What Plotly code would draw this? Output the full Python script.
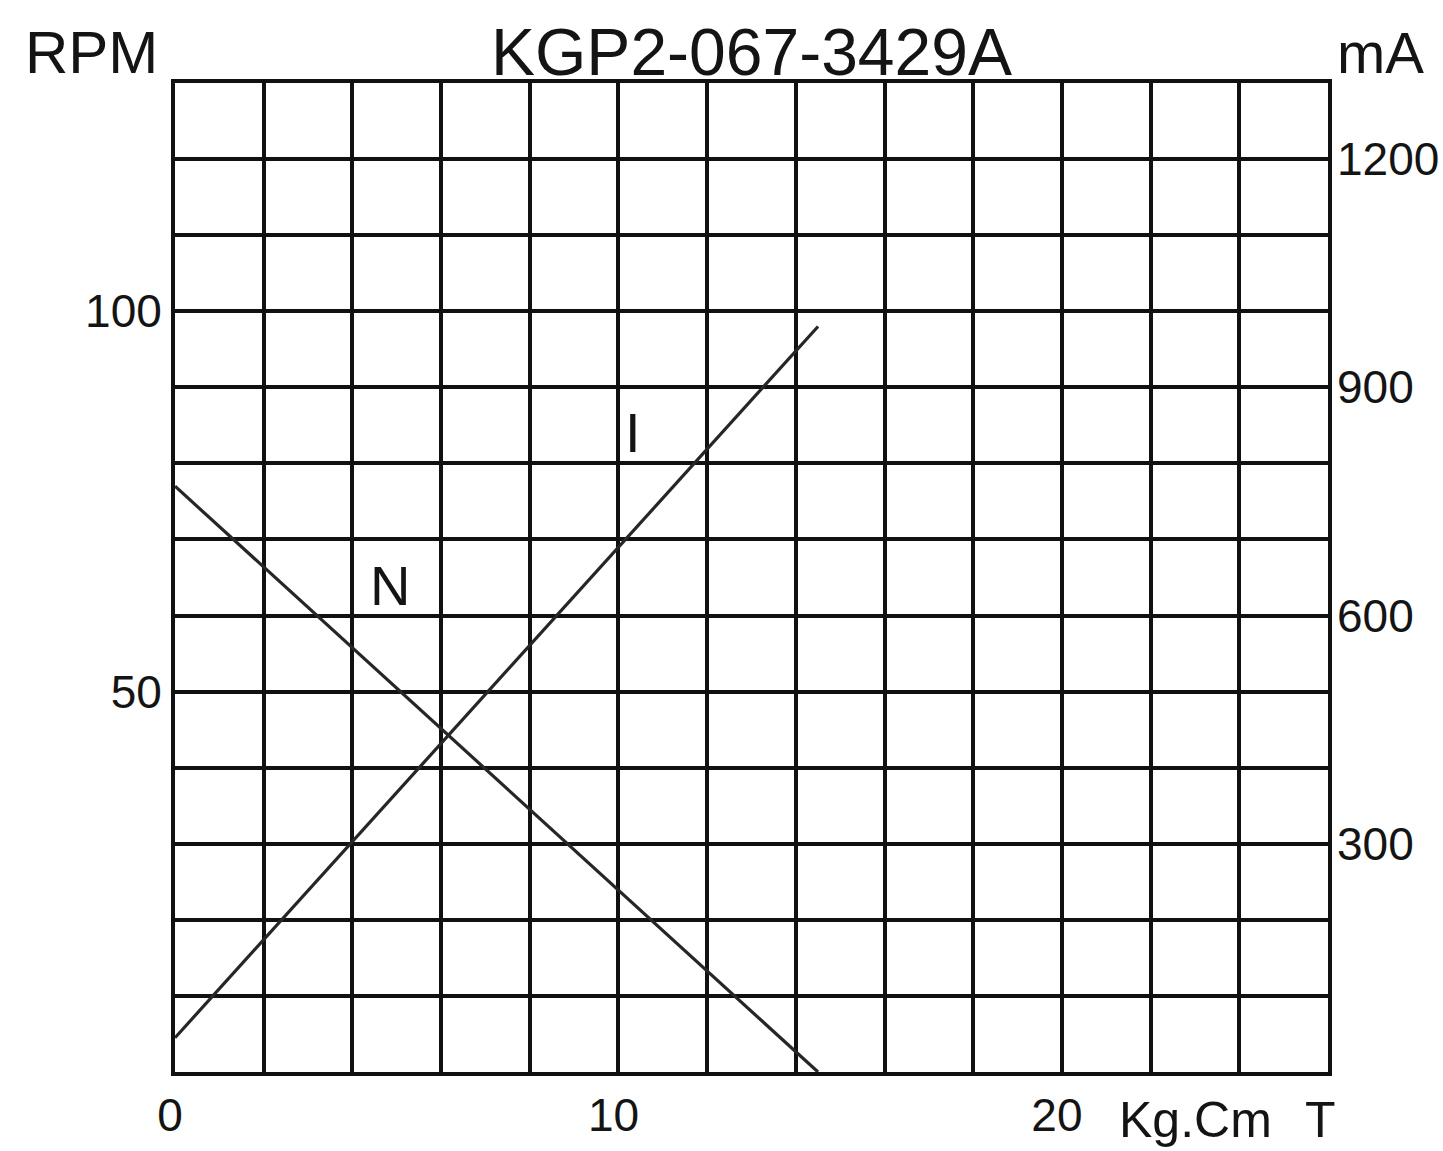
import plotly.graph_objects as go

# ---- data ----
torque_kgcm = [0, 14.5]
speed_rpm = [77, 0]
current_ma = [45, 980]

x_ticks = list(range(0, 27, 2))
x_ticktext = ["0" if v == 0 else "10" if v == 10 else "20" if v == 20 else "" for v in x_ticks]
y_ticks = list(range(0, 131, 10))
y_ticktext = ["50" if v == 50 else "100" if v == 100 else "" for v in y_ticks]
y2_ticks = [300, 600, 900, 1200]
y2_ticktext = ["300", "600", "900", "1200"]

title_text = "KGP2-067-3429A"
left_unit = "RPM"
right_unit = "mA"
x_unit = "Kg.Cm"
x_symbol = "T"
label_n = ("N", 4.85, 64)
label_i = ("I", 10.33, 841)

FONT = "Liberation Sans, Arial, sans-serif"
INK = "#141414"

fig = go.Figure()
fig.add_trace(go.Scatter(x=torque_kgcm, y=speed_rpm, mode="lines",
                         line=dict(color="#262626", width=3.2), showlegend=False,
                         hoverinfo="skip"))
fig.add_trace(go.Scatter(x=torque_kgcm, y=current_ma, mode="lines", yaxis="y2",
                         line=dict(color="#262626", width=3.2), showlegend=False,
                         hoverinfo="skip"))

fig.update_layout(
    width=1443, height=1151,
    margin=dict(l=175, r=115, t=83, b=79, autoexpand=False),
    paper_bgcolor="white", plot_bgcolor="white",
    font=dict(family=FONT, color=INK),
    xaxis=dict(range=[0, 26], tickvals=x_ticks, ticktext=x_ticktext,
               showgrid=True, gridcolor="#111", gridwidth=4,
               showline=True, linecolor="#111", linewidth=4, mirror=True,
               zeroline=False, ticks="", ticklabelstandoff=0, ticklabelshift=-5,
               automargin=False,
               tickfont=dict(size=46, color=INK, family=FONT)),
    yaxis=dict(range=[0, 130], tickvals=y_ticks, ticktext=y_ticktext,
               showgrid=True, gridcolor="#111", gridwidth=4,
               showline=True, linecolor="#111", linewidth=4, mirror=True,
               zeroline=False, ticks="", ticklabelstandoff=0, automargin=False,
               tickfont=dict(size=46, color=INK, family=FONT)),
    yaxis2=dict(range=[0, 1300], tickvals=y2_ticks, ticktext=y2_ticktext,
                overlaying="y", side="right", showgrid=False, zeroline=False,
                showline=False, ticks="", ticklabelstandoff=8, automargin=False,
                tickfont=dict(size=46, color=INK, family=FONT)),
)

ann_font = dict(family=FONT, color=INK)
fig.add_annotation(text=title_text, xref="paper", yref="paper", x=0.5, y=1.0,
                   yshift=31, showarrow=False, xanchor="center", yanchor="middle",
                   font=dict(size=66, **ann_font))
fig.add_annotation(text=left_unit, xref="paper", yref="paper", x=0, y=1.0,
                   xshift=-84, yshift=31, showarrow=False, xanchor="center", yanchor="middle",
                   font=dict(size=60, **ann_font))
fig.add_annotation(text=right_unit, xref="paper", yref="paper", x=1, y=1.0,
                   xshift=52, yshift=31, showarrow=False, xanchor="center", yanchor="middle",
                   font=dict(size=58, **ann_font))
fig.add_annotation(text=x_unit, xref="paper", yref="paper", x=1, y=0,
                   xshift=-133, yshift=-48, showarrow=False, xanchor="center", yanchor="middle",
                   font=dict(size=50, **ann_font))
fig.add_annotation(text=x_symbol, xref="paper", yref="paper", x=1, y=0,
                   xshift=-8, yshift=-48, showarrow=False, xanchor="center", yanchor="middle",
                   font=dict(size=50, **ann_font))
fig.add_annotation(text=label_n[0], x=label_n[1], y=label_n[2], xref="x", yref="y",
                   showarrow=False, font=dict(size=56, **ann_font))
fig.add_annotation(text=label_i[0], x=label_i[1], y=label_i[2], xref="x", yref="y2",
                   showarrow=False, font=dict(size=56, **ann_font))

fig.write_html("out.html", config={"displayModeBar": False},
               post_script="document.body.style.margin='0';")
